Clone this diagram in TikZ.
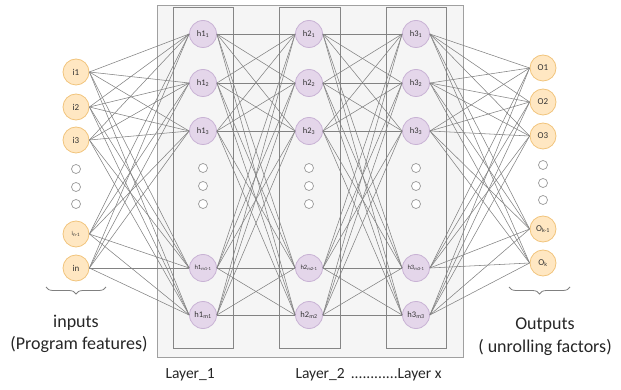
\documentclass[tikz,border=0pt]{standalone}
\usepackage{fontspec}
\setmainfont{Carlito}
\usetikzlibrary{decorations.pathreplacing}
\definecolor{bgfill}{HTML}{F5F5F5}
\definecolor{bgline}{HTML}{A0A0A0}
\definecolor{boxline}{HTML}{858585}
\definecolor{wire}{HTML}{828282}
\definecolor{hidfill}{HTML}{E4D6EA}
\definecolor{hidline}{HTML}{C8B2D4}
\definecolor{iofill}{HTML}{FFE7C2}
\definecolor{ioline}{HTML}{F1C47C}
\definecolor{txt}{HTML}{333333}
\tikzset{
  hid/.style={circle,fill=hidfill,draw=hidline,line width=0.8pt,minimum size=27pt,inner sep=0pt,font=\fontsize{8.5}{9}\selectfont,text=txt},
  io/.style={circle,fill=iofill,draw=ioline,line width=0.8pt,minimum size=26pt,inner sep=0pt,font=\fontsize{9}{10}\selectfont,text=txt},
  dotc/.style={circle,fill=white,draw=gray!80,line width=0.7pt,minimum size=9pt,inner sep=0pt},
  wirestyle/.style={draw=wire,line width=0.55pt},
  layerbox/.style={draw=boxline,line width=0.8pt},
  lbl/.style={font=\fontsize{18}{21}\selectfont,text=black!85},
  laytxt/.style={font=\fontsize{15.5}{18}\selectfont,text=black!85},
  bracestyle/.style={draw=gray,line width=0.8pt,decorate,decoration={brace,mirror,amplitude=7pt}}
}
\begin{document}
\begin{tikzpicture}[x=1pt,y=-1pt]
\useasboundingbox (0,0) rectangle (621,390);
% background panel and layer boxes
\fill[bgfill,draw=bgline,line width=0.8pt] (157,5) rectangle (463,357);
\draw[layerbox] (173,7) rectangle (233,348);
\draw[layerbox] (279,7) rectangle (340,348);
\draw[layerbox] (386,7) rectangle (446,348);
% inputs
\node[io] (i1) at (76,72) {i1};
\node[io] (i2) at (76,107) {i2};
\node[io] (i3) at (76,140) {i3};
\node[dotc] (id1) at (76,169) {};
\node[dotc] (id2) at (76,187) {};
\node[dotc] (id3) at (76,204) {};
\node[io,font=\fontsize{6}{7}\selectfont] (i4) at (76,234) {i\textsubscript{n-1}};
\node[io] (i5) at (76,268) {in};
% hidden layers
\foreach \L/\x in {1/203,2/309,3/416}{
  \node[hid] (h\L-1) at (\x,34) {h\L\textsubscript{1}};
  \node[hid] (h\L-2) at (\x,83) {h\L\textsubscript{2}};
  \node[hid] (h\L-3) at (\x,131) {h\L\textsubscript{3}};
  \node[dotc] (hd\L-1) at (\x,168) {};
  \node[dotc] (hd\L-2) at (\x,186) {};
  \node[dotc] (hd\L-3) at (\x,204) {};
  \node[hid,font=\fontsize{6.5}{7}\selectfont] (h\L-4) at (\x,268) {h\L\textsubscript{m\L-1}};
  \node[hid] (h\L-5) at (\x,315) {h\L\textsubscript{m\L}};
}
% outputs
\node[io] (o1) at (543,68) {O1};
\node[io] (o2) at (543,102) {O2};
\node[io] (o3) at (543,136) {O3};
\node[dotc] (od1) at (543,165) {};
\node[dotc] (od2) at (543,183) {};
\node[dotc] (od3) at (543,200) {};
\node[io] (o4) at (543,229) {O\textsubscript{k-1}};
\node[io] (o5) at (543,263) {O\textsubscript{k}};
% connections
\foreach \a in {1,...,5}{
  \foreach \b in {1,...,5}{
    \draw[wirestyle] (i\a.east) -- (h1-\b.west);
    \draw[wirestyle] (h1-\a.east) -- (h2-\b.west);
    \draw[wirestyle] (h2-\a.east) -- (h3-\b.west);
    \draw[wirestyle] (h3-\a.east) -- (o\b.west);
  }
}
% braces
\coordinate (bl1) at (46,287);
\coordinate (bl2) at (106,287);
\coordinate (br1) at (509,287);
\coordinate (br2) at (570,287);
\draw[bracestyle] (bl1) -- (bl2);
\draw[bracestyle] (br1) -- (br2);
% labels
\node[lbl] (tin) at (76,323) {inputs};
\node[lbl] (tin2) at (79,344) {(Program features)};
\node[lbl] (tout) at (545,325) {Outputs};
\node[lbl] (tout2) at (545,347) {( unrolling factors)};
\node[laytxt,anchor=west] (l1) at (162,375) {Layer\_1};
\node[laytxt,anchor=west] (l2) at (292,375) {Layer\_2 \,............Layer x};
\end{tikzpicture}
\end{document}
